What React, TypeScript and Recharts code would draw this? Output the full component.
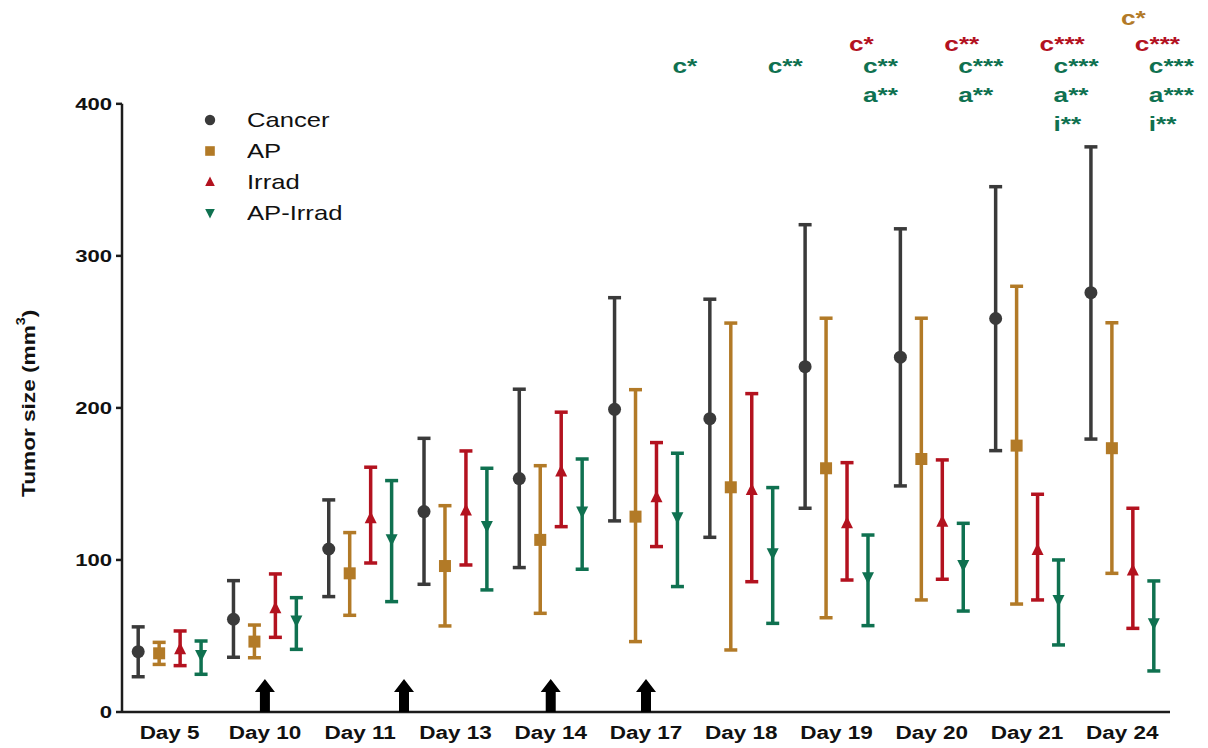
import React from "react";
import {
  ComposedChart,
  Scatter,
  ErrorBar,
  XAxis,
  YAxis,
  ReferenceLine,
  Legend,
} from "recharts";

const days = ["Day 5", "Day 10", "Day 11", "Day 13", "Day 14", "Day 17", "Day 18", "Day 19", "Day 20", "Day 21", "Day 24"];

const cancerMean = [39.7, 61, 107.2, 131.8, 153.5, 199.1, 192.9, 227.1, 233.4, 258.8, 275.8];
const cancerUpper = [56, 86.4, 139.5, 180, 212.3, 272.5, 271.5, 320.5, 317.8, 345.5, 371.7];
const cancerLower = [23.2, 36, 75.9, 84, 95, 125.7, 114.9, 134, 148.7, 171.9, 179.5];

const apMean = [38.6, 46.3, 91.2, 96, 113.2, 128.5, 147.8, 160.3, 166.4, 175.2, 173.5];
const apUpper = [45.8, 57.2, 118, 135.7, 162, 212, 255.8, 259, 259, 280, 256];
const apLower = [31.3, 35.7, 63.6, 56.6, 64.9, 46.3, 40.8, 62, 73.7, 71, 91.2];

const irradMean = [41.2, 68.2, 127.4, 132.5, 158.1, 141.2, 146, 124.1, 125.2, 106.6, 93];
const irradUpper = [53.3, 90.8, 161, 171.7, 197.2, 177.2, 209.4, 164, 165.8, 143.2, 134];
const irradLower = [30.5, 49.1, 98, 96.7, 121.9, 108.8, 85.7, 86.8, 87.3, 73.7, 55];

const apIrradMean = [37.5, 60.1, 113.6, 122.4, 131.8, 128.1, 104.4, 88.6, 96.7, 73.7, 58.3];
const apIrradUpper = [46.7, 75.2, 152.2, 160.3, 166.4, 170.2, 147.6, 116.4, 124.1, 100, 86.2];
const apIrradLower = [24.8, 41.2, 72.6, 80.3, 93.9, 82.5, 58.3, 56.8, 66.4, 44.1, 27];

// significance marks per day (vs c = Cancer, a = AP, i = Irrad)
const apSig = [[], [], [], [], [], [], [], [], [], [], ["c*"]];
const irradSig = [[], [], [], [], [], [], [], ["c*"], ["c**"], ["c***"], ["c***"]];
const apIrradSig = [[], [], [], [], [], ["c*"], ["c**"], ["c**", "a**"], ["c***", "a**"], ["c***", "a**", "i**"], ["c***", "a***", "i**"]];
const apSigLevels = [456.5];
const irradSigLevels = [440];
const apIrradSigLevels = [425, 406, 387];

// treatment days (arrows under the axis)
const arrowPositions = [1, 2.46, 4, 5];

const yTicks = [0, 100, 200, 300, 400];

const FONT = '"Liberation Sans", Arial, sans-serif';
const AXIS = "#1c1c1c";

const COLORS = {
  cancer: "#3a3a3a",
  ap: "#b27a27",
  irrad: "#b3121f",
  apIrrad: "#0f7150",
};

const makePoints = (mean: number[], upper: number[], lower: number[], offset: number) =>
  mean.map((m, i) => ({ x: i + offset, y: m, err: [m - lower[i], upper[i] - m] }));

const makeSig = (sig: string[][], levels: number[], offset: number, color: string, dx: number) =>
  sig.flatMap((list, i) => list.map((text, r) => ({ x: i + offset, y: levels[r], text, color, dx })));

const series = [
  { key: "cancer", name: "Cancer", color: COLORS.cancer, marker: "circle", data: makePoints(cancerMean, cancerUpper, cancerLower, -0.33) },
  { key: "ap", name: "AP", color: COLORS.ap, marker: "square", data: makePoints(apMean, apUpper, apLower, -0.11) },
  { key: "irrad", name: "Irrad", color: COLORS.irrad, marker: "up", data: makePoints(irradMean, irradUpper, irradLower, 0.11) },
  { key: "apIrrad", name: "AP-Irrad", color: COLORS.apIrrad, marker: "down", data: makePoints(apIrradMean, apIrradUpper, apIrradLower, 0.33) },
];

const sigData = [
  ...makeSig(apSig, apSigLevels, -0.11, COLORS.ap, 9),
  ...makeSig(irradSig, irradSigLevels, 0.11, COLORS.irrad, 2),
  ...makeSig(apIrradSig, apIrradSigLevels, 0.33, COLORS.apIrrad, -5),
];

const arrowData = arrowPositions.map((x) => ({ x, y: 0 }));

function Marker({ type, cx, cy, color, s = 1 }: any) {
  if (type === "circle") return <circle cx={cx} cy={cy} r={6.5 * s} fill={color} />;
  if (type === "square") return <rect x={cx - 6 * s} y={cy - 6 * s} width={12 * s} height={12 * s} fill={color} />;
  if (type === "up")
    return <path d={`M${cx},${cy - 7 * s}L${cx + 6 * s},${cy + 5 * s}L${cx - 6 * s},${cy + 5 * s}Z`} fill={color} />;
  return <path d={`M${cx},${cy + 7 * s}L${cx + 6 * s},${cy - 5 * s}L${cx - 6 * s},${cy - 5 * s}Z`} fill={color} />;
}

function Arrow(props: any) {
  const { cx, cy } = props;
  const d = `M${cx},${cy - 33}L${cx + 10},${cy - 20}L${cx + 5},${cy - 20}L${cx + 5},${cy}L${cx - 5},${cy}L${cx - 5},${cy - 20}L${cx - 10},${cy - 20}Z`;
  return <path d={d} fill="#000" />;
}

function SigText(props: any) {
  const { cx, cy, payload } = props;
  return (
    <g transform={`translate(${cx + payload.dx},${cy}) scale(1.25,1)`}>
      <text textAnchor="start" dominantBaseline="central" fill={payload.color} fontFamily={FONT} fontWeight="bold" fontSize={21}>
        {payload.text}
      </text>
    </g>
  );
}

function XTick({ x, y, payload }: any) {
  return (
    <g transform={`translate(${x},${y + 19}) scale(1.25,1)`}>
      <text textAnchor="middle" fill="#111" fontFamily={FONT} fontWeight="bold" fontSize={18}>
        {days[payload.value]}
      </text>
    </g>
  );
}

function YTick({ x, y, payload }: any) {
  return (
    <g transform={`translate(${x},${y + 6}) scale(1.3,1)`}>
      <text textAnchor="end" fill="#111" fontFamily={FONT} fontWeight="bold" fontSize={17}>
        {payload.value}
      </text>
    </g>
  );
}

function YLabel(props: any) {
  const vb = props.viewBox || { x: 42, y: 5, width: 80, height: 707 };
  const cx = vb.x - 14;
  const cy = vb.y + vb.height - (203 / 465) * vb.height;
  return (
    <g transform={`translate(${cx},${cy}) rotate(-90) scale(1.19,1)`}>
      <text textAnchor="middle" dominantBaseline="central" fill="#111" fontFamily={FONT} fontWeight="bold" fontSize={19}>
        Tumor size (mm
        <tspan fontSize={12} dy={-8}>3</tspan>
        <tspan dy={8}>)</tspan>
      </text>
    </g>
  );
}

function LegendContent() {
  return (
    <div style={{ fontFamily: FONT, fontSize: 21, color: "#111" }}>
      {series.map((s) => (
        <div key={s.key} style={{ display: "flex", alignItems: "center", height: 31 }}>
          <svg width={16} height={16}>
            <Marker type={s.marker} cx={8} cy={8} color={s.color} s={0.8} />
          </svg>
          <span style={{ marginLeft: 29, display: "inline-block", transform: "scaleX(1.22)", transformOrigin: "left center", whiteSpace: "nowrap" }}>
            {s.name}
          </span>
        </div>
      ))}
    </div>
  );
}

export default function App() {
  return (
    <div style={{ position: "absolute", left: 0, top: 0, width: 1208, height: 748, background: "#fff" }}>
      <ComposedChart width={1208} height={748} margin={{ top: 5, right: 38, bottom: 6, left: 42 }}>
        <XAxis
          type="number"
          dataKey="x"
          domain={[-0.5, 10.5]}
          ticks={days.map((_, i) => i)}
          interval={0}
          tickLine={false}
          axisLine={{ stroke: AXIS, strokeWidth: 2.5 }}
          tick={<XTick />}
          height={30}
        />
        <YAxis
          type="number"
          dataKey="y"
          domain={[0, 465]}
          ticks={yTicks}
          interval={0}
          width={80}
          axisLine={false}
          tickLine={{ stroke: AXIS, strokeWidth: 2.5 }}
          tickSize={6}
          tickMargin={4}
          tick={<YTick />}
          label={(p: any) => <YLabel {...p} />}
        />
        <ReferenceLine
          segment={[{ x: -0.5, y: 0 }, { x: -0.5, y: 400 }]}
          stroke={AXIS}
          strokeWidth={2.5}
          ifOverflow="visible"
        />
        {series.map((s) => (
          <Scatter
            key={s.key}
            name={s.name}
            data={s.data}
            fill={s.color}
            isAnimationActive={false}
            shape={(p: any) => <Marker type={s.marker} cx={p.cx} cy={p.cy} color={s.color} />}
          >
            <ErrorBar dataKey="err" direction="y" width={6.5} stroke={s.color} strokeWidth={3.5} isAnimationActive={false} />
          </Scatter>
        ))}
        <Scatter data={arrowData} isAnimationActive={false} shape={<Arrow />} legendType="none" />
        <Scatter data={sigData} isAnimationActive={false} shape={<SigText />} legendType="none" />
        <Legend
          layout="vertical"
          align="center"
          verticalAlign="middle"
          content={<LegendContent />}
          wrapperStyle={{ left: 202, top: 104, width: 200 }}
        />
      </ComposedChart>
    </div>
  );
}
